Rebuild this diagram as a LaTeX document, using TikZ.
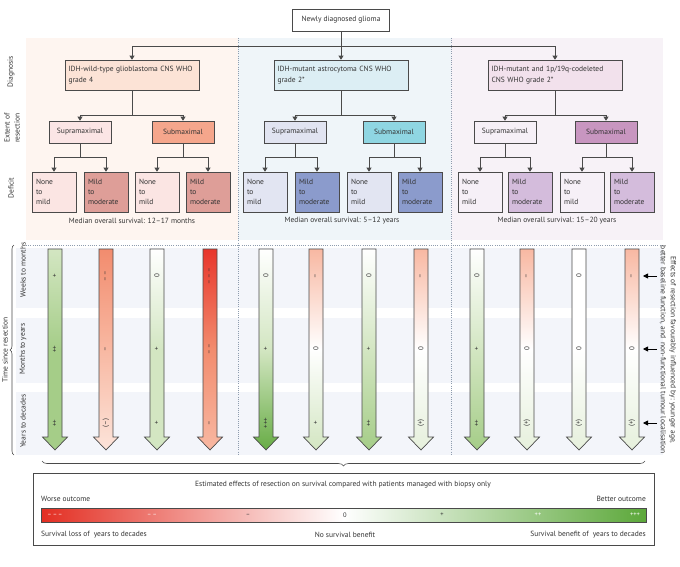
\documentclass[tikz,border=0pt]{standalone}
\usepackage{fontspec}
\setmainfont{PT Sans}
\usepackage{tikz}
\usetikzlibrary{positioning,arrows.meta,decorations.pathreplacing}

\definecolor{boxline}{HTML}{4A4A4A}
\definecolor{txt}{HTML}{333333}
\definecolor{divcol}{HTML}{8E9CAE}
\definecolor{panelL}{HTML}{FEF5F0}
\definecolor{panelM}{HTML}{EFF5F9}
\definecolor{panelR}{HTML}{F7F2F7}
\definecolor{band}{HTML}{F3F5FA}
\definecolor{gbmD}{HTML}{FCE3D6}
\definecolor{astroD}{HTML}{DCEEF4}
\definecolor{oligoD}{HTML}{F2E1EC}
\definecolor{gbmSup}{HTML}{FBE5E5}
\definecolor{gbmSub}{HTML}{F5A68C}
\definecolor{astroSup}{HTML}{E1E4F1}
\definecolor{astroSub}{HTML}{8FD6E2}
\definecolor{oligoSup}{HTML}{F6F0F7}
\definecolor{oligoSub}{HTML}{C896C0}
\definecolor{gbmNone}{HTML}{FBE5E3}
\definecolor{gbmMild}{HTML}{DE9E98}
\definecolor{astroNone}{HTML}{E2E5F2}
\definecolor{astroMild}{HTML}{8B9BCC}
\definecolor{oligoNone}{HTML}{F6F0F7}
\definecolor{oligoMild}{HTML}{D4BCDC}
\definecolor{cMMM}{HTML}{E8352B}
\definecolor{cMM}{HTML}{F28C6E}
\definecolor{cM}{HTML}{F8B8A2}
\definecolor{cMp}{HTML}{FCE4DA}
\definecolor{cZ}{HTML}{FFFFFF}
\definecolor{cPp}{HTML}{E6F0DC}
\definecolor{cP}{HTML}{D3E6C2}
\definecolor{cPP}{HTML}{A5CD88}
\definecolor{cPPP}{HTML}{67AC45}
\definecolor{barL}{HTML}{E32E22}
\definecolor{barR}{HTML}{5CA83A}

\newcommand{\timearrow}[8]{%
    \shade[draw=boxline,line width=0.7pt,top color=#2,bottom color=#4,middle color=#3,shift={(#1,0)}]
      (-7,249) -- (7,249) -- (7,437) -- (12.5,437) -- (0,450) -- (-12.5,437) -- (-7,437) -- cycle;
    \node[sign] (#8a) at (#1,276) {#5};
    \node[sign] (#8b) at (#1,349) {#6};
    \node[sign] (#8c) at (#1,423) {#7};}

\begin{document}
\begin{tikzpicture}
    [x=1pt,y=-1pt,
     font=\fontsize{7.5}{10}\selectfont,
     every node/.style={text=txt},
     doc/.style={rectangle,draw=boxline,line width=0.6pt,inner sep=0pt},
     diag/.style={doc,minimum width=134pt,minimum height=30pt,text width=127pt,align=left,font=\fontsize{7.5}{10.5}\selectfont},
     resec/.style={doc,minimum width=62pt,minimum height=22pt},
     deficit/.style={doc,minimum width=44pt,minimum height=40pt,text width=36pt,align=left},
     link/.style={draw=boxline,line width=0.7pt,-{Triangle[width=5pt,length=4pt]}},
     divider/.style={draw=divcol,line width=0.7pt,dash pattern=on 1pt off 1.2pt},
     sign/.style={rotate=90,inner sep=0pt,font=\fontsize{7}{7}\selectfont},
     side/.style={rotate=90,align=center,inner sep=0pt},
     pointer/.style={draw=black,line width=0.8pt,-{Triangle[width=5pt,length=5pt]}},
     legsign/.style={inner sep=0pt,font=\fontsize{6.5}{7}\selectfont}]

    \useasboundingbox (0,0) rectangle (680,567);
    \fill[white] (0,0) rectangle (680,567);

    \fill[panelL] (26,38) rectangle (238,240);
    \fill[panelM] (238,38) rectangle (451,240);
    \fill[panelR] (451,38) rectangle (663,240);
    \fill[band] (16,248) rectangle (663,308);
    \fill[band] (16,318) rectangle (663,383);
    \fill[band] (16,392) rectangle (663,455);
    \draw[divider] (26,245) -- (663,245);
    \draw[divider] (238,38) -- (238,455);
    \draw[divider] (451,38) -- (451,455);

    \node[side] (lbldiag) at (11,72) {Diagnosis};
    \node[side] (lblres) at (12,128) {Extent of\\resection};
    \node[side] (lbldef) at (11,188) {Deficit};

    \node[doc,minimum width=97pt,minimum height=22pt,fill=white] (glioma) at (341,20) {Newly diagnosed glioma};

    \node[diag,fill=gbmD] (gbm) at (132,75) {IDH-wild-type glioblastoma CNS WHO\\grade 4};
    \node[diag,fill=astroD] (astro) at (341,75) {IDH-mutant astrocytoma CNS WHO\\grade 2*};
    \node[diag,fill=oligoD] (oligo) at (555,75) {IDH-mutant and 1p/19q-codeleted\\CNS WHO grade 2*};

    \draw[link] (glioma.south) -- ++(0,15) -| (gbm.north);
    \draw[link] (glioma.south) -- ++(0,15) -| (oligo.north);
    \draw[link] (glioma.south) -- (astro.north);

    \node[resec,fill=gbmSup] (gbmsup) at (80,132) {Supramaximal};
    \node[resec,fill=gbmSub] (gbmsub) at (183,132) {Submaximal};
    \node[resec,fill=astroSup] (astrosup) at (295,132) {Supramaximal};
    \node[resec,fill=astroSub] (astrosub) at (394,132) {Submaximal};
    \node[resec,fill=oligoSup] (oligosup) at (505,132) {Supramaximal};
    \node[resec,fill=oligoSub] (oligosub) at (606,132) {Submaximal};

    \draw[link] (gbm.south) -- ++(0,25) -| (gbmsup.north);
    \draw[link] (gbm.south) -- ++(0,25) -| (gbmsub.north);
    \draw[link] (astro.south) -- ++(0,25) -| (astrosup.north);
    \draw[link] (astro.south) -- ++(0,25) -| (astrosub.north);
    \draw[link] (oligo.south) -- ++(0,25) -| (oligosup.north);
    \draw[link] (oligo.south) -- ++(0,25) -| (oligosub.north);

    \node[deficit,fill=gbmNone] (gbmsupnone) at (54,192) {None\\to\\mild};
    \node[deficit,fill=gbmMild] (gbmsupmild) at (106,192) {Mild\\to\\moderate};
    \node[deficit,fill=gbmNone] (gbmsubnone) at (157,192) {None\\to\\mild};
    \node[deficit,fill=gbmMild] (gbmsubmild) at (208,192) {Mild\\to\\moderate};
    \node[deficit,fill=astroNone] (astrosupnone) at (265,192) {None\\to\\mild};
    \node[deficit,fill=astroMild] (astrosupmild) at (317,192) {Mild\\to\\moderate};
    \node[deficit,fill=astroNone] (astrosubnone) at (369,192) {None\\to\\mild};
    \node[deficit,fill=astroMild] (astrosubmild) at (420,192) {Mild\\to\\moderate};
    \node[deficit,fill=oligoNone] (oligosupnone) at (480,192) {None\\to\\mild};
    \node[deficit,fill=oligoMild] (oligosupmild) at (530,192) {Mild\\to\\moderate};
    \node[deficit,fill=oligoNone] (oligosubnone) at (582,192) {None\\to\\mild};
    \node[deficit,fill=oligoMild] (oligosubmild) at (632,192) {Mild\\to\\moderate};

    \draw[link] (gbmsup.south) -- ++(0,14) -| (gbmsupnone.north);
    \draw[link] (gbmsup.south) -- ++(0,14) -| (gbmsupmild.north);
    \draw[link] (gbmsub.south) -- ++(0,14) -| (gbmsubnone.north);
    \draw[link] (gbmsub.south) -- ++(0,14) -| (gbmsubmild.north);
    \draw[link] (astrosup.south) -- ++(0,14) -| (astrosupnone.north);
    \draw[link] (astrosup.south) -- ++(0,14) -| (astrosupmild.north);
    \draw[link] (astrosub.south) -- ++(0,14) -| (astrosubnone.north);
    \draw[link] (astrosub.south) -- ++(0,14) -| (astrosubmild.north);
    \draw[link] (oligosup.south) -- ++(0,14) -| (oligosupnone.north);
    \draw[link] (oligosup.south) -- ++(0,14) -| (oligosupmild.north);
    \draw[link] (oligosub.south) -- ++(0,14) -| (oligosubnone.north);
    \draw[link] (oligosub.south) -- ++(0,14) -| (oligosubmild.north);

    \node (gbmos) at (132,221) {Median overall survival: 12–17 months};
    \node (astroos) at (342,221) {Median overall survival: 5–12 years};
    \node (oligoos) at (557,221) {Median overall survival: 15–20 years};

    \node[side] (weeks) at (23,270) {Weeks to months};
    \node[side] (months) at (23,349) {Months to years};
    \node[side] (years) at (23,421) {Years to decades};
    \draw[boxline,line width=0.6pt,decorate,decoration={brace,amplitude=4pt}] (14,455) -- (14,245);
    \node[side] (timelbl) at (5,350) {Time since resection};

    \timearrow{55}{cP}{cPP}{cPP}{+}{++}{++}{a1}
    \timearrow{106}{cMM}{cM}{cMp}{–\,–}{–}{(–)}{a2}
    \timearrow{157}{cZ}{cP}{cP}{0}{+}{+}{a3}
    \timearrow{210}{cMMM}{cMM}{cM}{–\,–\,–}{–\,–}{–}{a4}
    \timearrow{266}{cZ}{cP}{cPPP}{0}{+}{+++}{a5}
    \timearrow{316}{cM}{cZ}{cP}{–}{0}{+}{a6}
    \timearrow{369}{cZ}{cP}{cPP}{0}{+}{++}{a7}
    \timearrow{421}{cM}{cZ}{cPp}{–}{0}{(+)}{a8}
    \timearrow{477}{cZ}{cP}{cPP}{0}{+}{++}{a9}
    \timearrow{527}{cM}{cZ}{cPp}{–}{0}{(+)}{a10}
    \timearrow{579}{cZ}{cZ}{cPp}{0}{0}{(+)}{a11}
    \timearrow{632}{cM}{cZ}{cPp}{–}{0}{(+)}{a12}

    \node[rotate=-90,align=center,inner sep=0pt] (effects) at (668,350) {Effects of resection favourably influenced by: younger age,\\better baseline function, and \ non-functional tumour localisation};
    \coordinate (p1) at (657,276);
    \coordinate (p2) at (657,349);
    \coordinate (p3) at (657,423);
    \draw[pointer] (p1) -- ([xshift=11pt]a12a.center);
    \draw[pointer] (p2) -- ([xshift=11pt]a12b.center);
    \draw[pointer] (p3) -- ([xshift=11pt]a12c.center);

    \draw[boxline,line width=0.6pt,decorate,decoration={brace,amplitude=5pt}] (645,461) -- (42,461);

    \node[draw=boxline,line width=0.6pt,minimum width=621pt,minimum height=72pt,inner sep=0pt] (legend) at (343.5,509) {};
    \node (legtitle) at (343,485) {Estimated effects of resection on survival compared with patients managed with biopsy only};
    \node[anchor=west,inner sep=0pt] (worse) at (41,499) {Worse outcome};
    \node[anchor=east,inner sep=0pt] (better) at (646,499) {Better outcome};
    \node[draw=boxline,line width=0.6pt,minimum width=605pt,minimum height=14pt,inner sep=0pt,
          left color=barL,right color=barR,middle color=white] (bar) at (343.5,515) {};
    \node[legsign,text=white] (s1) at (55,515) {–\,–\,–};
    \node[legsign,text=white] (s2) at (152,515) {–\,–};
    \node[legsign] (s3) at (248,515) {–};
    \node[legsign] (s4) at (345,515) {0};
    \node[legsign] (s5) at (442,515) {+};
    \node[legsign,text=white] (s6) at (538,515) {++};
    \node[legsign,text=white] (s7) at (635,515) {+++};
    \node[anchor=west,inner sep=0pt] (loss) at (41,535) {Survival loss of \ years to decades};
    \node[inner sep=0pt] (nobenefit) at (345,535) {No survival benefit};
    \node[anchor=east,inner sep=0pt] (benefit) at (646,535) {Survival benefit of \ years to decades};
\end{tikzpicture}
\end{document}
